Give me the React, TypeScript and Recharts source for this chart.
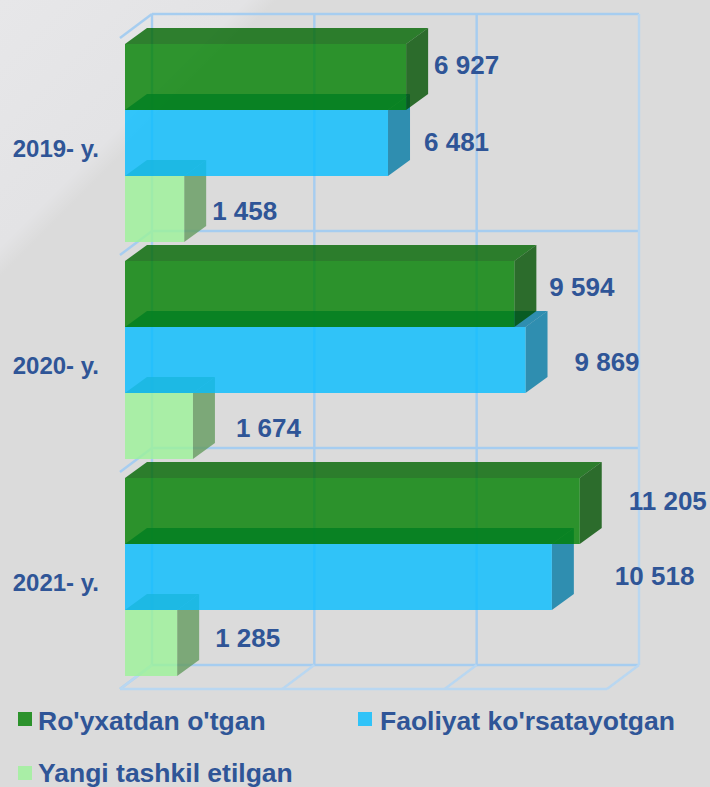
import React from 'react';
import { BarChart, Bar, XAxis, YAxis, CartesianGrid, Legend, LabelList } from 'recharts';

const years = ['2019- y.', '2020- y.', '2021- y.'];
const registered = [6927, 9594, 11205];
const active = [6481, 9869, 10518];
const created = [1458, 1674, 1285];
const xTicks = [0, 4000, 8000, 12000];

const NAME_REGISTERED = "Ro'yxatdan o'tgan";
const NAME_ACTIVE = "Faoliyat ko'rsatayotgan";
const NAME_CREATED = 'Yangi tashkil etilgan';

const rows = years.map((year, i) => ({
  year,
  registered: registered[i],
  active: active[i],
  created: created[i],
}));

const TEXT = '#2F5597';
const FONT = "'Liberation Sans', Arial, sans-serif";
const GRID = '#a6cdf0';
const GRID_LIGHT = '#b9d7f1';
const ALPHA = 0.8;

// wall depth of the 3D frame, and depth / inset of the boxes inside it
const WALL = { dx: 32, dy: -24 };
const BOX = { dx: 22, dy: -16, ox: 5, oy: -4 };

// Series are painted back to front (created, active, registered), so that the
// translucent front of an upper box covers the top face of the box below it.
const styles = {
  created: { front: '#9cf398', top: '#649b5f', side: '#649b5f', slot: 2, nudges: [[6, 2], [21, 2], [16, -5]] },
  active: { front: '#05bdff', top: '#047ba5', side: '#047ba5', slot: 1, nudges: [[14, -1], [27, 2], [41, -1]] },
  registered: { front: '#008000', top: '#006500', side: '#005000', slot: 0, nudges: [[6, -12], [13, -7], [27, -10]] },
};

const slotShift = (slot: number, height: number) => (slot === 1 ? 0 : slot === 2 ? 2 * height : -2 * height);

const boxShape = (s: any) => (p: any) => {
  const x = p.x + BOX.ox;
  const y = p.y + BOX.oy + slotShift(s.slot, p.height);
  const w = p.width;
  const h = p.height;
  const { dx, dy } = BOX;
  return (
    <g>
      <polygon points={`${x},${y} ${x + dx},${y + dy} ${x + w + dx},${y + dy} ${x + w},${y}`} fill={s.top} fillOpacity={ALPHA} />
      <polygon points={`${x + w},${y} ${x + w + dx},${y + dy} ${x + w + dx},${y + h + dy} ${x + w},${y + h}`} fill={s.side} fillOpacity={ALPHA} />
      <rect x={x} y={y} width={w} height={h} fill={s.front} fillOpacity={ALPHA} />
    </g>
  );
};

const fmt = (v: number) => `${Math.floor(v / 1000)} ${String(v % 1000).padStart(3, '0')}`;

const boxLabel = (s: any) => (p: any) => {
  const [nx, ny] = s.nudges[p.index];
  const x = p.x + BOX.ox + p.width + BOX.dx + nx;
  const y = p.y + BOX.oy + slotShift(s.slot, p.height) + p.height / 2 + ny;
  return (
    <text x={x} y={y} dominantBaseline="central" fill={TEXT} fontFamily={FONT} fontWeight={700} fontSize={26}>
      {fmt(Number(p.value))}
    </text>
  );
};

const verticalLine = (p: any) => {
  const { x1, y1, y2 } = p;
  const last = x1 > 600;
  return (
    <g key={p.key ?? `v-${x1}`}>
      <line x1={x1 + WALL.dx} y1={y1 + WALL.dy} x2={x1 + WALL.dx} y2={y2 + WALL.dy} stroke={last ? GRID_LIGHT : GRID} strokeWidth={2.4} />
      <line x1={x1} y1={y2} x2={x1 + WALL.dx} y2={y2 + WALL.dy} stroke={GRID_LIGHT} strokeWidth={2.4} />
    </g>
  );
};

const horizontalLine = (p: any) => {
  const { x1, x2, y1 } = p;
  const floor = y1 > 680;
  return (
    <g key={p.key ?? `h-${y1}`}>
      <line x1={x1 + WALL.dx} y1={y1 + WALL.dy} x2={x2 + WALL.dx} y2={y1 + WALL.dy} stroke={GRID} strokeWidth={2.4} />
      <line x1={x1} y1={y1} x2={x1 + WALL.dx} y2={y1 + WALL.dy} stroke={GRID} strokeWidth={2.4} />
      {floor && <line x1={x1} y1={y1} x2={x2} y2={y1} stroke={GRID_LIGHT} strokeWidth={2.4} />}
    </g>
  );
};

const legendSlots = [
  { name: NAME_REGISTERED, left: 18, top: 706, markerTop: 712, gap: 6 },
  { name: NAME_ACTIVE, left: 358, top: 706, markerTop: 712, gap: 8 },
  { name: NAME_CREATED, left: 18, top: 758, markerTop: 766, gap: 6 },
];

const legendContent = (props: any) => (
  <div>
    {legendSlots.map((slot) => {
      const entry = (props.payload || []).find((e: any) => e.value === slot.name);
      const color = entry ? entry.color : '#000';
      return (
        <React.Fragment key={slot.name}>
          <span
            style={{
              position: 'absolute',
              left: slot.left,
              top: slot.markerTop,
              width: 14,
              height: 14,
              background: color,
              opacity: ALPHA,
            }}
          />
          <span
            style={{
              position: 'absolute',
              left: slot.left + 14 + slot.gap,
              top: slot.top,
              color: TEXT,
              fontFamily: FONT,
              fontWeight: 700,
              fontSize: 26.5,
              lineHeight: '30px',
              whiteSpace: 'nowrap',
            }}
          >
            {slot.name}
          </span>
        </React.Fragment>
      );
    })}
  </div>
);

export default function App() {
  return (
    <div
      style={{
        position: 'absolute',
        left: 0,
        top: 0,
        width: 710,
        height: 787,
        overflow: 'hidden',
        background: 'linear-gradient(135deg, #e7e7e9 0%, #e3e3e5 16.5%, #dbdbdb 18.5%, #dbdbdb 100%)',
      }}
    >
      <BarChart
        width={710}
        height={787}
        data={rows}
        layout="vertical"
        margin={{ top: 38, right: 103, bottom: 98, left: 0 }}
        barSize={66}
        barGap={0}
      >
        <CartesianGrid
          vertical={verticalLine}
          horizontal={horizontalLine}
          horizontalCoordinatesGenerator={({ offset }: any) => [0, 1, 2, 3].map((i) => offset.top + (i * offset.height) / 3)}
        />
        <XAxis type="number" hide domain={[0, 12000]} ticks={xTicks} />
        <YAxis
          type="category"
          dataKey="year"
          width={120}
          axisLine={false}
          tickLine={false}
          tickSize={0}
          tickMargin={21}
          tick={{ fill: TEXT, fontFamily: FONT, fontWeight: 700, fontSize: 24, dy: 2 }}
        />
        <Legend
          content={legendContent}
          wrapperStyle={{ position: 'absolute', left: 0, top: 0, bottom: 'auto', width: 0, height: 0 }}
        />
        <Bar dataKey="created" name={NAME_CREATED} fill={styles.created.front} isAnimationActive={false} shape={boxShape(styles.created)}>
          <LabelList dataKey="created" content={boxLabel(styles.created)} />
        </Bar>
        <Bar dataKey="active" name={NAME_ACTIVE} fill={styles.active.front} isAnimationActive={false} shape={boxShape(styles.active)}>
          <LabelList dataKey="active" content={boxLabel(styles.active)} />
        </Bar>
        <Bar dataKey="registered" name={NAME_REGISTERED} fill={styles.registered.front} isAnimationActive={false} shape={boxShape(styles.registered)}>
          <LabelList dataKey="registered" content={boxLabel(styles.registered)} />
        </Bar>
      </BarChart>
    </div>
  );
}
